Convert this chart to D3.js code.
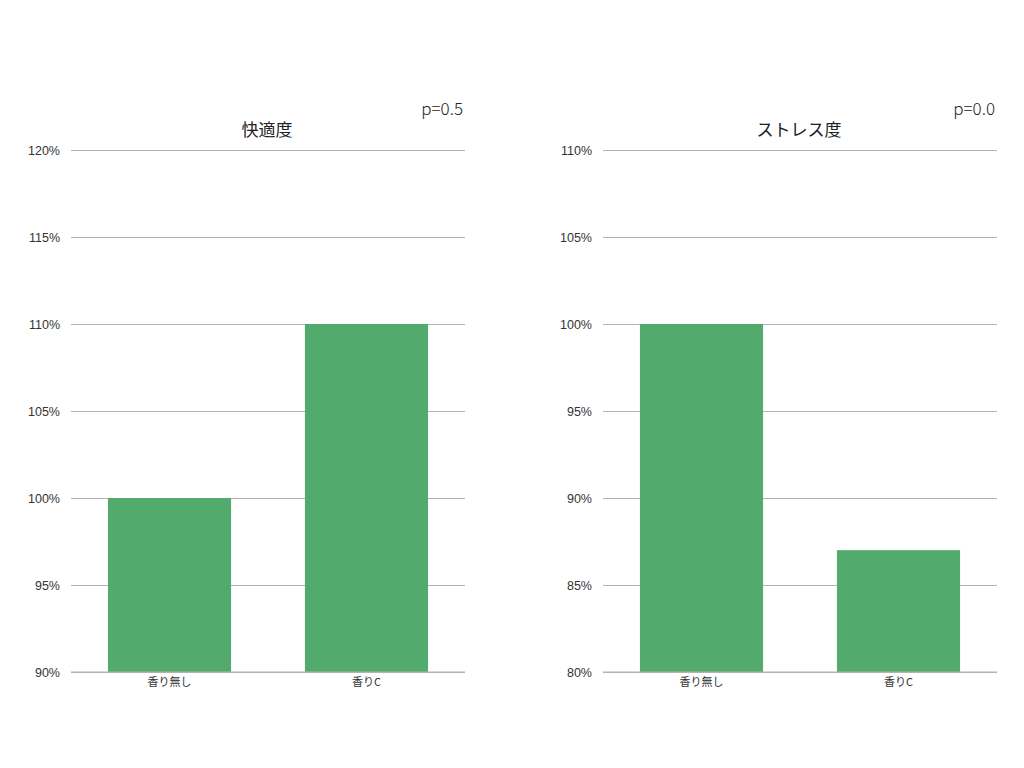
<!DOCTYPE html>
<html>
<head>
<meta charset="utf-8">
<script src="https://cdn.jsdelivr.net/npm/d3@7"></script>
<style>
  body { margin: 0; background: #fff; }
  svg { display: block; font-family: "Noto Sans CJK JP", "Noto Sans", sans-serif; }
</style>
</head>
<body>
<svg id="chart" width="1024" height="768"></svg>
<script>
const categories = ["香り無し", "香りC"];

const comfortTitle = "快適度";
const comfortP = "p=0.5";
const comfortValues = [100, 110];
const comfortTicks = [90, 95, 100, 105, 110, 115, 120];

const stressTitle = "ストレス度";
const stressP = "p=0.0";
const stressValues = [100, 87];
const stressTicks = [80, 85, 90, 95, 100, 105, 110];

const svg = d3.select("#chart");
const plotTop = 150, plotBottom = 672;

function drawPanel(left, right, title, pText, values, ticks) {
    const g = svg.append("g");

    const x = d3.scaleBand()
        .domain(categories)
        .range([left, right])
        .paddingInner(0.375)
        .paddingOuter(0.1875);

    const y = d3.scaleLinear()
        .domain(d3.extent(ticks))
        .range([plotBottom, plotTop]);

    // grid + tick labels
    const axis = g.append("g")
        .attr("transform", `translate(${left},0)`)
        .call(d3.axisLeft(y)
            .tickValues(ticks)
            .tickSize(-(right - left))
            .tickPadding(11)
            .tickFormat(d => d + "%"));
    axis.select(".domain").remove();
    axis.selectAll(".tick line").attr("stroke", "#b3b3b3");
    axis.selectAll(".tick text")
        .attr("fill", "#333")
        .style("font-size", "12.5px")
        .style("font-weight", 300);

    g.selectAll("rect.bar")
        .data(values)
        .join("rect")
        .attr("class", "bar")
        .attr("x", (d, i) => x(categories[i]))
        .attr("y", d => y(d))
        .attr("width", x.bandwidth())
        .attr("height", d => y(ticks[0]) - y(d))
        .attr("fill", "#52ab6c");

    // bottom line drawn over bars
    g.append("line")
        .attr("x1", left).attr("x2", right)
        .attr("y1", plotBottom).attr("y2", plotBottom)
        .attr("stroke", "#b3b3b3");

    g.selectAll("text.cat")
        .data(categories)
        .join("text")
        .attr("class", "cat")
        .attr("x", d => x(d) + x.bandwidth() / 2)
        .attr("y", plotBottom + 14)
        .attr("text-anchor", "middle")
        .attr("fill", "#333")
        .style("font-size", "11px")
        .text(d => d);

    g.append("text")
        .attr("x", (left + right) / 2 - 1)
        .attr("y", 136)
        .attr("text-anchor", "middle")
        .attr("fill", "#222")
        .style("font-size", "17px")
        .text(title);

    g.append("text")
        .attr("x", right - 2)
        .attr("y", 115)
        .attr("text-anchor", "end")
        .attr("fill", "#222")
        .style("font-size", "17px")
        .style("font-weight", 300)
        .text(pText);
}

drawPanel(71, 465, comfortTitle, comfortP, comfortValues, comfortTicks);
drawPanel(603, 997, stressTitle, stressP, stressValues, stressTicks);
</script>
</body>
</html>
